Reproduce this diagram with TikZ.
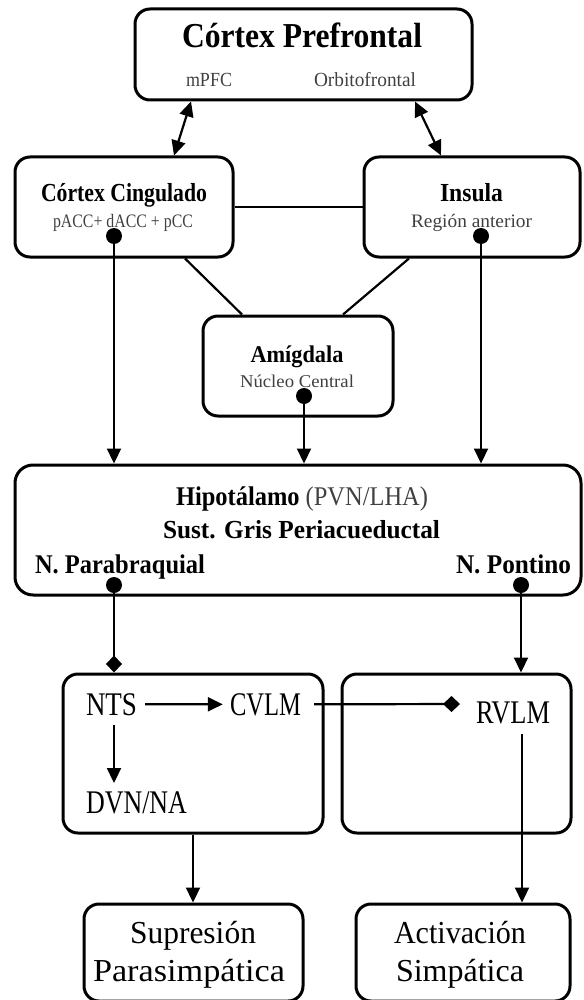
\documentclass[tikz,border=0pt]{standalone}
\usepackage{graphicx}
\usepackage{fontspec}
\setmainfont{Liberation Serif}
\usetikzlibrary{arrows.meta,calc}
\newlength\wfitlen
\newcommand\wfit[2]{\settowidth\wfitlen{#2}\pgfmathsetmacro\wfitf{#1/\wfitlen}\scalebox{\wfitf}[1]{#2}}
\tikzset{
  box/.style={draw, line width=3pt, rounded corners=15pt, inner sep=0pt},
  conn/.style={line width=2.2pt},
  arr/.style={conn, -{Triangle[length=15pt,width=14pt]}},
  dia/.style={conn, -{Diamond[length=17pt,width=16pt]}},
  dot/.style={circle, fill, inner sep=0pt, minimum size=16pt},
  lbl/.style={anchor=base, inner sep=0pt},
  sub/.style={lbl, text=black!75},
}
\begin{document}
\begin{tikzpicture}[x=1pt,y=-1pt]
\useasboundingbox (0,0) rectangle (583,1000);
% boxes
\node[box, minimum width=337pt, minimum height=91pt] (pref) at (303.5,54.5) {};
\node[box, minimum width=218pt, minimum height=100pt] (cing) at (124,207) {};
\node[box, minimum width=216pt, minimum height=100pt] (ins) at (472,207) {};
\node[box, minimum width=190pt, minimum height=100pt] (amyg) at (298,366) {};
\node[box, rounded corners=18pt, minimum width=566pt, minimum height=130pt] (hypo) at (298,530) {};
\node[box, minimum width=260pt, minimum height=159pt] (ntsbox) at (193,753.5) {};
\node[box, minimum width=229pt, minimum height=159pt] (rvbox) at (456.5,753.5) {};
\node[box, minimum width=219pt, minimum height=97pt] (sup) at (193.5,952.5) {};
\node[box, minimum width=214pt, minimum height=97pt] (act) at (463,952.5) {};
% labels
\node[lbl] (tpref) at (302,48) {\fontsize{35}{40}\selectfont\bfseries\wfit{240}{Córtex Prefrontal}};
\node[sub] (tmpfc) at (209,87) {\fontsize{20}{24}\selectfont\wfit{46}{mPFC}};
\node[sub] (torb) at (365,87) {\fontsize{20}{24}\selectfont\wfit{102}{Orbitofrontal}};
\node[lbl] (tcing) at (124,202) {\fontsize{26}{30}\selectfont\bfseries\wfit{166}{Córtex Cingulado}};
\node[sub] (tcingsub) at (123,228) {\fontsize{19}{22}\selectfont\wfit{140}{pACC+ dACC + pCC}};
\node[lbl] (tins) at (471.5,202) {\fontsize{26}{30}\selectfont\bfseries\wfit{63}{Insula}};
\node[sub] (tinssub) at (471.5,228) {\fontsize{19}{22}\selectfont\wfit{121}{Región anterior}};
\node[lbl] (tamy) at (297,362) {\fontsize{24}{28}\selectfont\bfseries\wfit{93}{Amígdala}};
\node[sub] (tamysub) at (297,387) {\fontsize{18}{22}\selectfont\wfit{114}{Núcleo Central}};
\node[lbl] (thyp) at (302,505) {\fontsize{27}{30}\selectfont\wfit{252}{\textbf{Hipotálamo} \textcolor{black!75}{(PVN/LHA)}}};
\node[lbl] (tsust) at (301.5,538) {\fontsize{26}{30}\selectfont\bfseries\wfit{277}{Sust. Gris Periacueductal}};
\node[lbl] (tpb) at (120,573) {\fontsize{27}{30}\selectfont\bfseries\wfit{170}{N. Parabraquial}};
\node[lbl] (tpon) at (513.5,573) {\fontsize{27}{30}\selectfont\bfseries\wfit{115}{N. Pontino}};
\node[lbl] (nts) at (111.5,715) {\fontsize{33}{36}\selectfont\wfit{51}{NTS}};
\node[lbl] (cvlm) at (265.5,715) {\fontsize{33}{36}\selectfont\wfit{71}{CVLM}};
\node[lbl] (rvlm) at (513,723) {\fontsize{33}{36}\selectfont\wfit{74}{RVLM}};
\node[lbl] (dvn) at (136.5,813) {\fontsize{33}{36}\selectfont\wfit{101}{DVN/NA}};
\node[lbl] (tsup1) at (193,943) {\fontsize{32}{36}\selectfont\wfit{126}{Supresión}};
\node[lbl] (tsup2) at (189,981) {\fontsize{32}{36}\selectfont\wfit{192}{Parasimpática}};
\node[lbl] (tact1) at (460,943) {\fontsize{32}{36}\selectfont\wfit{132}{Activación}};
\node[lbl] (tact2) at (460,981) {\fontsize{32}{36}\selectfont\wfit{128}{Simpática}};
% dots
\node[dot] (cdot) at (114,236) {};
\node[dot] (idot) at (481,236) {};
\node[dot] (adot) at (304,396) {};
\node[dot] (pbdot) at (114,585) {};
\node[dot] (pondot) at (521,585) {};
% helper coordinates
\coordinate (n1) at (114,725);
\coordinate (n2) at (114,783);
\coordinate (rv1) at (460,704);
\coordinate (rv2) at (522,734);
% connectors
\draw[conn, {Triangle[length=15pt,width=14pt]}-{Triangle[length=15pt,width=14pt]}] (pref.south -| 191,0) -- (cing.north -| 174,0);
\draw[conn, {Triangle[length=15pt,width=14pt]}-{Triangle[length=15pt,width=14pt]}] (pref.south -| 415,0) -- (ins.north -| 441,0);
\draw[conn] (cing.east) -- (ins.west);
\draw[conn] (cing.south -| 185,0) -- (amyg.north -| 242,0);
\draw[conn] (ins.south -| 409,0) -- (amyg.north -| 343,0);
\draw[arr] (cdot.center) -- (cdot |- hypo.north);
\draw[arr] (idot.center) -- (idot |- hypo.north);
\draw[arr] (adot.center) -- (adot |- hypo.north);
\draw[dia] (pbdot.center) -- (pbdot |- ntsbox.north);
\draw[arr] (pondot.center) -- (pondot |- rvbox.north);
\draw[arr] ($(nts.east)+(8,0)$) -- ($(cvlm.west)+(-7,0)$);
\draw[arr] (n1) -- (n2);
\draw[dia] ($(cvlm.east)+(13,0)$) -- (rv1);
\draw[arr] (rv2) -- (rv2 |- act.north);
\draw[arr] (ntsbox.south) -- (ntsbox.south |- sup.north);
\end{tikzpicture}
\end{document}
